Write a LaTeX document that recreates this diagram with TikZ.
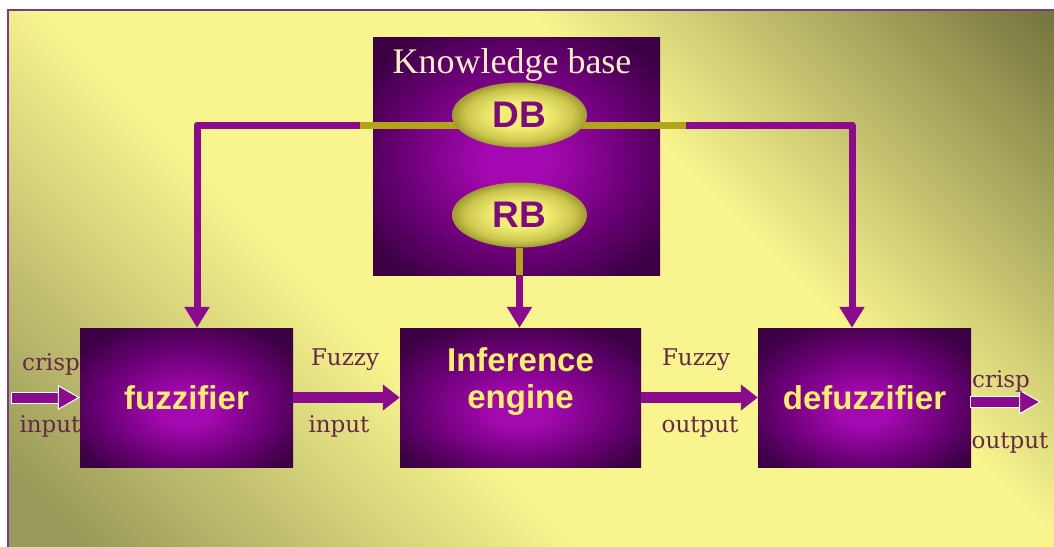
\documentclass[tikz,border=0pt]{standalone}
\usepackage{fontspec}
\setmainfont{Liberation Serif}
\newfontfamily\boxfont{Liberation Sans}
\newfontfamily\labfont{DejaVu Serif}
\usetikzlibrary{arrows.meta,shapes.geometric}

\definecolor{bgtr}{HTML}{76763F}
\definecolor{bgbl}{HTML}{9A9A5A}
\definecolor{bglight}{HTML}{F8F48E}
\definecolor{boxin}{HTML}{A408B0}
\definecolor{boxmid}{HTML}{6A0076}
\definecolor{boxout}{HTML}{3C0044}
\definecolor{ellin}{HTML}{F2EE72}
\definecolor{ellmid}{HTML}{CCC650}
\definecolor{ellout}{HTML}{A09A2E}
\definecolor{arrowc}{HTML}{8C0A8E}
\definecolor{olivec}{HTML}{B4A41C}
\definecolor{labc}{HTML}{662848}
\definecolor{txty}{HTML}{F8F06A}
\definecolor{kbtxt}{HTML}{F8F0C4}
\definecolor{dbtxt}{HTML}{7E0A80}
\definecolor{framec}{HTML}{7E3A7E}

\pgfdeclarehorizontalshading{bgsh}{100bp}{color(0bp)=(bgbl); color(18bp)=(bgbl); color(40bp)=(bglight); color(62bp)=(bglight); color(85bp)=(bgtr); color(100bp)=(bgtr)}
\pgfdeclareradialshading{boxsh}{\pgfpoint{0bp}{-5bp}}{color(0bp)=(boxin); color(6bp)=(boxin); color(20bp)=(boxmid); color(31bp)=(boxout); color(50bp)=(boxout)}
\pgfdeclareradialshading{kbsh}{\pgfpoint{0bp}{-1bp}}{color(0bp)=(boxin); color(6bp)=(boxin); color(20bp)=(boxmid); color(31bp)=(boxout); color(50bp)=(boxout)}
\pgfdeclareradialshading{ellsh}{\pgfpoint{0bp}{0bp}}{color(0bp)=(ellin); color(10bp)=(ellin); color(20bp)=(ellmid); color(25bp)=(ellout); color(50bp)=(ellout)}

\begin{document}
\begin{tikzpicture}[x=1pt,y=-1pt,
  procbox/.style={rectangle, shade, shading=boxsh, minimum height=139pt, inner sep=0pt,
    text=txty, font=\boxfont\bfseries\fontsize{33}{37}\selectfont},
  boxtext/.style={text=txty, inner sep=0pt, font=\boxfont\bfseries\fontsize{33}{37}\selectfont},
  kbbox/.style={rectangle, shade, shading=kbsh, minimum width=287pt, minimum height=238pt, inner sep=0pt},
  kbtitle/.style={text=kbtxt, inner sep=0pt, font=\fontsize{36}{40}\selectfont},
  dbell/.style={ellipse, shade, shading=ellsh, minimum width=135pt, minimum height=65pt, inner sep=0pt,
    text=dbtxt, font=\boxfont\bfseries\fontsize{37}{40}\selectfont},
  lab/.style={text=labc, inner sep=0pt, anchor=base, font=\labfont\fontsize{23}{26}\selectfont},
  oliveline/.style={olivec, line width=7pt},
  feed/.style={arrowc, line width=7pt, line join=round, -{Triangle[width=24pt,length=21pt]}},
  mainar/.style={arrowc, line width=11pt, -{Triangle[width=25pt,length=17pt]}},
  crispar/.style={arrowc, line width=10pt,
    -{Triangle[width=25pt,length=22pt,color=white,fill=arrowc,line width=1pt]},
    preaction={draw=white, line width=12pt, -, shorten >=20pt, shorten <=-1pt}}
]
\useasboundingbox (0,0) rectangle (1054,546);
\clip (0,0) rectangle (1054,546);
\fill[white] (0,0) rectangle (1054,546);
\shade[shading=bgsh, shading angle=45] (8,10) rectangle (1054,546);
\draw[framec, line width=1.6pt] (8,10) rectangle (1080,580);

% boxes
\node[procbox, minimum width=213pt] (fuzz) at (186.5,397.5) {fuzzifier};
\node[procbox, minimum width=241pt] (inf) at (520.5,397.5) {};
\node[boxtext, align=center] (inftext) at ([yshift=16pt]inf.center) {Inference\\engine};
\node[procbox, minimum width=213pt] (defuzz) at (864.5,397.5) {defuzzifier};
\node[kbbox] (kb) at (516.5,156) {};
\node[kbtitle, anchor=base] (kbt) at (512,73) {Knowledge base};

% feedback lines from the data base
\coordinate (kbL) at (360,125);
\coordinate (kbR) at (686,125);
\coordinate (c1) at (197,125);
\coordinate (c2) at (852,125);
\draw[oliveline] (kbL) -- (kbR);
\draw[feed] (kbL) -- (c1) -- (c1 |- fuzz.north);
\draw[feed] (kbR) -- (c2) -- (c2 |- defuzz.north);

\node[dbell] (db) at (519.5,115) {DB};
\node[dbell] (rb) at (519.5,215) {RB};
\draw[oliveline] (rb.south) -- (rb.south |- kb.south);
\draw[feed] (rb.south |- kb.south) -- (rb.south |- inf.north);

% main flow
\coordinate (in0) at (12,397.5);
\coordinate (out0) at (1041,402);
\draw[crispar] (in0) -- (fuzz.west);
\draw[mainar] (fuzz) -- (inf);
\draw[mainar] (inf) -- (defuzz);
\draw[crispar] ([yshift=-4.5pt]defuzz.east) -- (out0);

% labels
\node[lab] (l1) at (51,370) {crisp};
\node[lab] (l2) at (50,432) {input};
\node[lab] (l3) at (345,365) {Fuzzy};
\node[lab] (l4) at (339,432) {input};
\node[lab] (l5) at (696,365) {Fuzzy};
\node[lab] (l6) at (700,432) {output};
\node[lab] (l7) at (1001,387) {crisp};
\node[lab] (l8) at (1010,448) {output};
\end{tikzpicture}
\end{document}
